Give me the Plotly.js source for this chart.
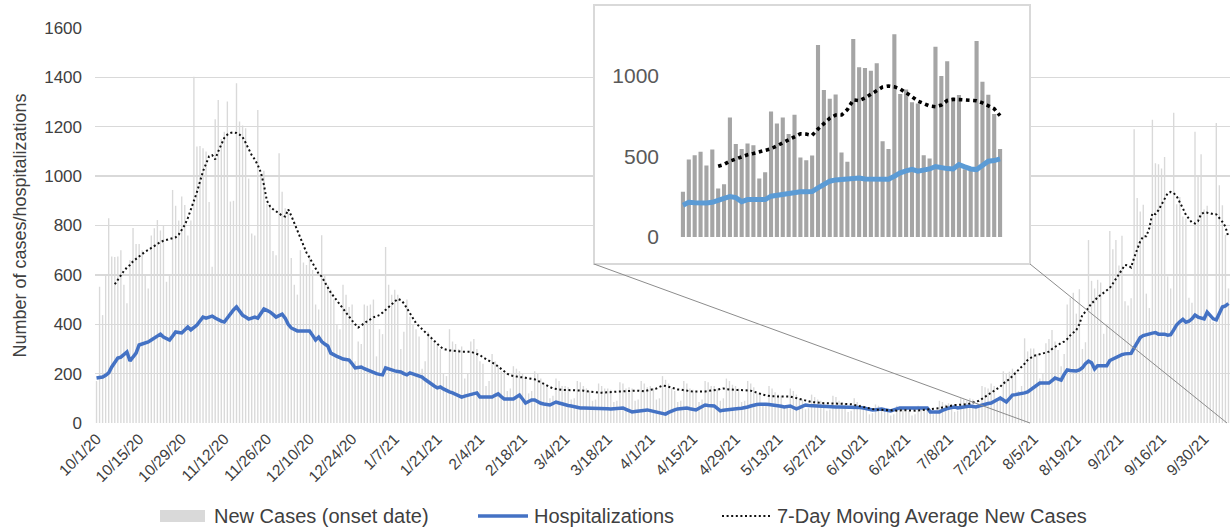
<!DOCTYPE html>
<html><head><meta charset="utf-8">
<script src="https://cdn.plot.ly/plotly-3.0.1.min.js"></script>
<style>html,body{margin:0;padding:0;background:#fff;}#chart{width:1231px;height:529px;}</style>
</head><body><div id="chart"></div>
<script>
// ---------- data (daily, starting 10/1/20) ----------
const startDate = [2020, 9, 1]; // year, month index, day
const newCases = [
170,552,437,600,829,674,672, 674,700,560,485,660,790,725, 725,700,600,545,760,789,822,
780,802,572,600,944,880,820, 917,883,760,820,1403,1120,1122, 1113,1100,895,633,1230,1308,1150,
1180,1302,897,900,1376,1221,1205, 1194,990,768,760,1268,1000,1022, 887,880,697,680,1093,937,870,
850,668,560,520,700,650,640, 680,620,480,460,761,600,560, 540,500,400,380,560,520,470,
480,250,330,320,480,475,480, 500,270,380,360,713,560,520, 540,520,300,370,500,430,400,
380,350,220,250,370,350,330, 320,300,200,190,380,330,320, 300,310,180,200,330,340,300,
250,240,150,170,280,250,230, 210,200,130,140,230,220,210, 200,190,120,130,210,200,180,
160,150,100,110,180,170,150, 150,145,95,100,170,165,150, 140,130,90,95,160,150,140,
140,135,85,90,165,160,140, 145,140,90,95,170,160,145, 150,140,95,100,190,175,160,
140,130,85,90,170,160,140, 135,130,85,95,170,165,150, 150,140,90,100,180,170,155,
150,140,85,90,170,160,145, 120,115,70,75,150,140,125, 115,110,65,70,140,130,115,
100,95,55,60,115,105,95, 90,85,50,55,110,105,90, 85,80,45,50,100,85,75,
70,65,35,40,75,70,60, 60,55,30,35,70,65,60, 60,50,30,35,70,65,55,
65,55,35,40,90,85,75, 80,75,45,50,100,95,90, 100,95,60,70,150,145,140,
160,150,100,110,210,200,208, 220,210,130,150,343,290,302, 302,280,180,200,323,340,377,
330,296,230,
280,480,507,528,443,542,300,327,741,576,545,580,569,362,402,778,704,741,638,758,
493,476,505,1190,911,857,884,524,466,1228,1052,1048,1031,1077,594,545,1257,886,915,836,
828,507,487,1180,998,1089,865,880,420,410,1215,963,882,762,545
];
const hospitalizations = [
182,184,186,193,203,227,245,263,267,278, 288,251,270,283,316,320,324,328,336,344,
352,360,348,342,336,352,369,367,365,377, 389,377,387,397,413,429,425,429,433,425,
417,413,409,427,445,458,470,453,437,429, 421,425,429,425,444,462,456,450,440,429,
435,441,425,400,385,378,373,373,373,373, 373,355,336,348,330,320,312,283,275,270,
265,259,257,255,240,223,225,227,220,215, 210,203,200,197,195,223,218,214,211,209,
207,200,195,203,199,195,190,186,176,166, 158,150,142,146,138,130,126,122,115,110,
105,109,113,116,120,122,105,105,105,105, 105,112,118,107,97,97,97,97,105,113,
97,81,87,93,93,85,80,77,75,73, 79,85,81,77,74,71,69,66,63,61,
61,61,61,61,61,61,61,59,58,57, 58,59,60,61,55,50,45,47,48,49,
51,53,50,47,45,40,38,36,43,49, 53,57,59,60,61,58,55,53,60,67,
73,71,70,69,59,49,52,54,56,57, 58,59,60,61,65,69,73,75,76,77,
76,75,74,73,70,68,65,67,69,63, 57,62,67,73,71,70,69,68,67,66,
65,65,65,65,65,65,65,65,65,65, 65,63,61,58,55,53,54,55,57,54,
51,49,53,57,61,61,61,61,61,61, 61,61,61,61,45,45,45,45,51,57,
60,63,65,61,63,65,67,69,67,65, 69,73,76,79,81,87,93,101,93,85,
99,113,115,117,118,122,126,136,146,154, 162,162,162,162,172,182,178,174,
197,215,213,211,211,215,224,240,251,244,219,232,232,232,232,253,259,265,273,277,
280,280,282,304,325,346,354,358,360,364,366,360,360,360,356,358,377,398,410,420,
408,412,422,437,429,424,422,449,435,422,418,445,470,474,484
];
const movingAverage = [
null,null,null,null,null,null,562,580,600,616,
630,640,655,665,675,685,694,701,709,717, 726,733,738,741,744,747,752,763,780,802,
830,865,895,935,978,1020,1050,1080,1085,1068, 1100,1130,1155,1168,1175,1177,1175,1168,1158,1135,
1110,1085,1068,1045,1015,965,900,878,866,858, 848,840,836,865,840,809,780,755,720,690,
670,650,628,605,593,570,545,528,512,495, 478,462,448,430,415,400,387,395,405,413,
420,428,432,437,447,458,470,482,491,503, 498,485,465,444,422,404,392,380,368,355,
345,332,320,309,300,296,294,293,291,290, 289,289,289,289,284,280,275,266,258,252,
245,238,228,218,208,200,193,190,188,186, 185,183,181,179,177,171,164,158,152,146,
140,137,134,134,134,134,134,134,134,134, 131,129,127,125,124,123,123,123,123,125,
126,127,128,130,131,131,131,131,131,130, 128,132,135,136,140,146,151,150,146,142,
138,136,135,134,132,129,127,127,126,127, 128,130,131,133,135,138,140,137,135,134,
134,134,134,134,133,131,127,122,118,115, 112,109,108,108,107,107,107,107,107,104,
100,96,92,89,86,85,84,82,81,80, 80,80,80,80,80,79,78,77,76,73,
70,66,63,60,57,55,54,54,53,53, 52,51,50,50,51,53,52,51,49,50,
51,52,53,54,55,55,57,60,63,66, 70,73,73,73,73,73,76,79,82,86,
90,98,106,113,122,131,139,147,160,168, 178,190,202,214,226,240,255,265,272,275,
280,282,285,289,300,309,316,324,
330,340,355,366,377,400,
439,450,470,485,495,510,518,527,536,547,565,583,600,621,640,638,630,670,705,736,
756,756,790,850,846,862,885,910,930,936,931,918,896,870,843,825,812,808,818,846,
853,852,848,846,845,832,815,795,752
];
const insetDays = 55;          // last 55 days shown in the zoomed inset
const insetMaSkip = 6;         // inset moving average starts on its 7th day
const yTickValues = [0,200,400,600,800,1000,1200,1400,1600];
const insetTickValues = [0,500,1000];
const legendLabels = ['New Cases (onset date)','Hospitalizations','7-Day Moving Average New Cases'];

// ---------- helpers ----------
const DAY = 86400000;
const t0 = Date.UTC(startDate[0], startDate[1], startDate[2]);
function iso(ms){ return new Date(ms).toISOString().slice(0,19).replace('T',' '); }
const dates = newCases.map((_, i) => iso(t0 + i*DAY).slice(0,10));
const n = dates.length;
const xRange = [iso(t0 - 0.5*DAY), iso(t0 + (n-0.5)*DAY)];
const s = n - insetDays;
const insetRange = [iso(t0 + (s-0.5)*DAY), iso(t0 + (n-0.5)*DAY)];

const FONT = '"Liberation Sans", Arial, sans-serif';
const W = 1231, H = 529, ML = 95, MR = 1, MT = 2, MB = 106;
const PW = W-ML-MR, PH = H-MT-MB;
const mainTopPx = 28, mainBotPx = 423;
const px = x => (x-ML)/PW;
const py = y => (mainBotPx - y)/PH;
const yDomTop = py(mainTopPx);

const box = {l:594, r:1030, t:5, b:264};
const insetPlot = {l:680, r:1003, zero:237, top:11.2};

const xr0 = t0 - 0.5*DAY, xr1 = t0 + (n-0.5)*DAY;
const pxToDate = x => iso(xr0 + px(x)*(xr1-xr0));
const pyToVal = y => (mainBotPx - y)/(mainBotPx-mainTopPx)*1600;

const traces = [
  {type:'bar', x:dates, y:newCases, name:legendLabels[0], marker:{color:'#d9d9d9', line:{width:0}},
   width:0.45*DAY, xaxis:'x', yaxis:'y', showlegend:false},
  {type:'scatter', mode:'lines', x:dates, y:hospitalizations, name:legendLabels[1],
   line:{color:'#4472C4', width:3.5}, xaxis:'x', yaxis:'y', showlegend:false},
  {type:'scatter', mode:'lines', x:dates, y:movingAverage, name:legendLabels[2],
   line:{color:'#111111', width:2, dash:'2px,2.6px'}, xaxis:'x', yaxis:'y', showlegend:false, connectgaps:false},
  {type:'bar', x:dates.slice(s), y:newCases.slice(s), marker:{color:'#a5a5a5', line:{width:0}},
   width:0.7*DAY, xaxis:'x2', yaxis:'y2', showlegend:false},
  {type:'scatter', mode:'lines', x:dates.slice(s), y:hospitalizations.slice(s),
   line:{color:'#5B9BD5', width:5}, xaxis:'x2', yaxis:'y2', showlegend:false},
  {type:'scatter', mode:'lines', x:dates.slice(s+insetMaSkip), y:movingAverage.slice(s+insetMaSkip),
   line:{color:'#000000', width:3.6, dash:'3.6px,3.6px'}, xaxis:'x2', yaxis:'y2', showlegend:false}
];

const legY = py(516);
const shapes = [
  {type:'rect', xref:'x', yref:'y', layer:'between', x0:pxToDate(box.l), x1:pxToDate(box.r),
   y0:pyToVal(box.b), y1:1800, fillcolor:'#ffffff', line:{width:0}},
  {type:'rect', xref:'paper', yref:'paper', layer:'above', x0:px(box.l), x1:px(box.r), y0:py(box.b), y1:py(box.t),
   fillcolor:'rgba(0,0,0,0)', line:{color:'#d9d9d9', width:2}},
  {type:'line', xref:'paper', yref:'paper', layer:'above', x0:px(box.l), y0:py(box.b), x1:px(1030), y1:0,
   line:{color:'#8c8c8c', width:1}},
  {type:'line', xref:'paper', yref:'paper', layer:'above', x0:px(box.r), y0:py(box.b), x1:px(1227), y1:0,
   line:{color:'#8c8c8c', width:1}},
  {type:'rect', xref:'paper', yref:'paper', x0:px(160), x1:px(205), y0:py(522), y1:py(510),
   fillcolor:'#d9d9d9', line:{width:0}},
  {type:'line', xref:'paper', yref:'paper', x0:px(478), x1:px(528), y0:legY, y1:legY,
   line:{color:'#4472C4', width:3.5}},
  {type:'line', xref:'paper', yref:'paper', x0:px(722), x1:px(770), y0:legY, y1:legY,
   line:{color:'#111111', width:2, dash:'2px,2.6px'}}
];
const annFont = {family:FONT, size:20, color:'#404040'};
const annotations = [
  {xref:'paper', yref:'paper', x:px(212), y:legY, xanchor:'left', yanchor:'middle', text:legendLabels[0], showarrow:false, font:annFont},
  {xref:'paper', yref:'paper', x:px(532), y:legY, xanchor:'left', yanchor:'middle', text:legendLabels[1], showarrow:false, font:annFont},
  {xref:'paper', yref:'paper', x:px(775), y:legY, xanchor:'left', yanchor:'middle', text:legendLabels[2], showarrow:false, font:annFont}
];

const layout = {
  width:W, height:H, margin:{l:ML, r:MR, t:MT, b:MB},
  paper_bgcolor:'#ffffff', plot_bgcolor:'rgba(0,0,0,0)',
  font:{family:FONT, color:'#404040'},
  showlegend:false, barmode:'overlay',
  xaxis:{type:'date', range:xRange, domain:[0,1], anchor:'y',
    tick0:dates[0], dtick:14*DAY, tickformat:'%-m/%-d/%y', tickangle:-45,
    tickfont:{family:FONT, size:15.5, color:'#404040'}, showgrid:false, zeroline:false,
    showline:false, ticks:'', ticklabelstandoff:3},
  yaxis:{range:[0,1600], domain:[0,yDomTop], anchor:'x', tickvals:yTickValues,
    tickfont:{family:FONT, size:17, color:'#404040'}, showgrid:true, gridcolor:'#d9d9d9', gridwidth:1.3,
    zeroline:false, showline:false, ticks:'', ticklabelstandoff:12,
    title:{text:'Number of cases/hospitalizations', font:{family:FONT, size:18, color:'#404040'}, standoff:12}},
  xaxis2:{type:'date', range:insetRange, domain:[px(insetPlot.l), px(insetPlot.r)], anchor:'y2',
    showticklabels:false, showgrid:false, zeroline:false, showline:false, ticks:''},
  yaxis2:{range:[0,1400], domain:[py(insetPlot.zero), py(insetPlot.top)], anchor:'x2',
    tickvals:insetTickValues, showgrid:false, zeroline:false, showline:false, ticks:'',
    tickfont:{family:FONT, size:21, color:'#595959'}, ticklabelstandoff:20},
  shapes:shapes, annotations:annotations
};

Plotly.newPlot('chart', traces, layout, {displayModeBar:false, staticPlot:true});
</script></body></html>
